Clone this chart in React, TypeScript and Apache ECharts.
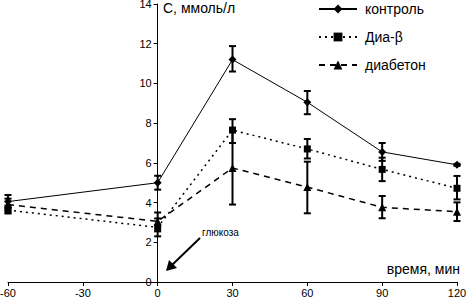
import React, { useEffect, useRef } from "react";
import * as echarts from "echarts";

const times = [-60, 0, 30, 60, 90, 120];

const control = [4.05, 5.0, 11.2, 9.05, 6.55, 5.9];
const controlLow = [3.75, 4.65, 10.6, 8.45, 6.1, 5.85];
const controlHigh = [4.38, 5.35, 11.88, 9.62, 7.0, 5.95];

const diaB = [3.62, 2.75, 7.65, 6.7, 5.67, 4.72];
const diaBLow = [3.45, 2.3, 7.0, 6.22, 5.08, 4.16];
const diaBHigh = [3.85, 3.2, 8.2, 7.2, 6.26, 5.34];

const diabeton = [3.9, 3.05, 5.74, 4.78, 3.76, 3.54];
const diabetonLow = [3.6, 2.55, 3.9, 3.46, 3.21, 3.07];
const diabetonHigh = [4.2, 3.5, 7.6, 6.06, 4.33, 4.01];

const names = ["контроль", "Диа-β", "диабетон"];

const FONT = "Liberation Sans, Arial, sans-serif";

const GRID_LEFT = 8;
const GRID_RIGHT = 10;
const WIDTH = 467;
const X_MIN = -60;
const X_MAX = 120;

function errSeries(low: number[], high: number[]) {
  return {
    type: "custom",
    silent: true,
    z: 3,
    data: times.map((t, i) => [t, low[i], high[i]]),
    encode: { x: 0, y: [1, 2] },
    renderItem: (params: any, api: any) => {
      const x = api.value(0);
      const lo = api.coord([x, api.value(1)]);
      const hi = api.coord([x, api.value(2)]);
      const w = 3.5;
      const style = { stroke: "#000", lineWidth: 2 };
      return {
        type: "group",
        children: [
          { type: "line", shape: { x1: lo[0], y1: lo[1], x2: hi[0], y2: hi[1] }, style },
          { type: "line", shape: { x1: lo[0] - w, y1: lo[1], x2: lo[0] + w, y2: lo[1] }, style },
          { type: "line", shape: { x1: hi[0] - w, y1: hi[1], x2: hi[0] + w, y2: hi[1] }, style },
        ],
      };
    },
  };
}

export default function App() {
  const ref = useRef<HTMLDivElement>(null);
  useEffect(() => {
    if (!ref.current) return;
    const chart = echarts.init(ref.current, undefined, { renderer: "svg" });
    const plotW = WIDTH - GRID_LEFT - GRID_RIGHT;
    const zeroOffset = ((0 - X_MIN) / (X_MAX - X_MIN)) * plotW;
    const lineSeries = (name: string, vals: number[], symbol: string, size: number, type: any, width: number) => ({
      name,
      type: "line",
      data: times.map((t, i) => [t, vals[i]]),
      symbol,
      symbolSize: size,
      z: 4,
      itemStyle: { color: "#000" },
      lineStyle: { color: "#000", width, type },
    });
    chart.setOption({
      animation: false,
      backgroundColor: "#fff",
      textStyle: { fontFamily: FONT },
      grid: { left: GRID_LEFT, right: GRID_RIGHT, top: 4, bottom: 21, containLabel: false, outerBoundsMode: "none" },
      xAxis: {
        type: "value",
        min: X_MIN,
        max: X_MAX,
        interval: 30,
        axisLine: { onZero: true, lineStyle: { color: "#000", width: 1 } },
        axisTick: { show: true, length: 4, lineStyle: { color: "#000" } },
        axisLabel: { color: "#000", fontSize: 11, fontFamily: FONT, margin: 5, showMinLabel: true, showMaxLabel: true },
        splitLine: { show: false },
      },
      yAxis: {
        type: "value",
        min: 0,
        max: 14,
        interval: 2,
        position: "left",
        offset: -zeroOffset,
        axisLine: { show: true, onZero: false, lineStyle: { color: "#000", width: 1 } },
        axisTick: { show: true, length: 4, lineStyle: { color: "#000" } },
        axisLabel: { color: "#000", fontSize: 11, fontFamily: FONT, margin: 6 },
        splitLine: { show: false },
      },
      legend: {
        orient: "vertical",
        left: 318,
        top: 2,
        padding: 0,
        itemWidth: 38,
        itemHeight: 11,
        itemGap: 14,
        data: names,
        textStyle: { color: "#000", fontSize: 14, fontFamily: FONT, padding: [0, 0, 0, 3] },
      },
      graphic: [
        { type: "text", left: 163, top: 1, style: { text: "С, ммоль/л", fontSize: 14, fontFamily: FONT, fill: "#000" } },
        { type: "text", right: 7, top: 262, style: { text: "время, мин", fontSize: 14, fontFamily: FONT, fill: "#000" } },
        { type: "text", left: 202, top: 227, style: { text: "глюкоза", fontSize: 10, fontFamily: FONT, fill: "#000" } },
        { type: "line", shape: { x1: 200, y1: 238, x2: 172, y2: 265 }, style: { stroke: "#000", lineWidth: 2 } },
        { type: "polygon", shape: { points: [[166, 271], [169, 260], [177, 268]] }, style: { fill: "#000" } },
      ],
      series: [
        lineSeries(names[0], control, "diamond", 8, "solid", 1),
        lineSeries(names[1], diaB, "rect", 7, [2, 4], 1.5),
        lineSeries(names[2], diabeton, "triangle", 8, [6, 5], 1.5),
        errSeries(controlLow, controlHigh),
        errSeries(diaBLow, diaBHigh),
        errSeries(diabetonLow, diabetonHigh),
      ],
    });
    return () => chart.dispose();
  }, []);
  return <div ref={ref} style={{ width: WIDTH, height: 303, position: "absolute", left: 0, top: 0 }} />;
}
